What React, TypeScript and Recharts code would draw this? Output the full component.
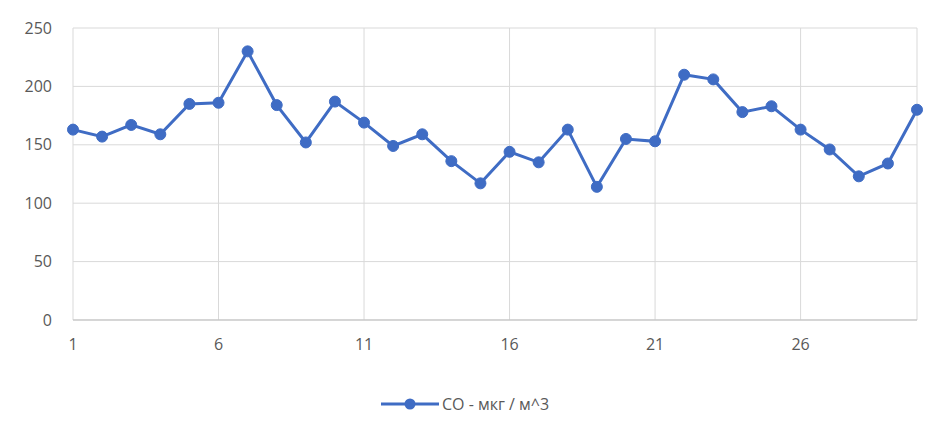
import { CartesianGrid, Legend, Line, LineChart, XAxis, YAxis } from "recharts";

const DAYS = Array.from({ length: 30 }, (_, i) => String(i + 1));
const CO_VALUES = [
  163, 157, 167, 159, 185, 186, 230, 184, 152, 187,
  169, 149, 159, 136, 117, 144, 135, 163, 114, 155,
  153, 210, 206, 178, 183, 163, 146, 123, 134, 180,
];
const Y_TICKS = [0, 50, 100, 150, 200, 250];
const SERIES_NAME = "CO - мкг / м^3";

const data = DAYS.map((day, i) => ({ day, value: CO_VALUES[i] }));

const LINE_COLOR = "#3f6cc4";
const TEXT_COLOR = "#595959";
const FONT = "'Open Sans', 'Noto Sans', sans-serif";

function LegendContent() {
  return (
    <div style={{ display: "flex", justifyContent: "center", alignItems: "center", fontFamily: FONT, fontSize: 16, color: TEXT_COLOR }}>
      <svg width={58} height={14} style={{ marginRight: 3 }}>
        <line x1={0} y1={7} x2={58} y2={7} stroke={LINE_COLOR} strokeWidth={3} />
        <circle cx={29} cy={7} r={5.5} fill={LINE_COLOR} />
      </svg>
      <span>{SERIES_NAME}</span>
    </div>
  );
}

export default function App() {
  return (
    <div style={{ position: "absolute", left: 0, top: 0, width: 937, height: 428, background: "#fff" }}>
      <LineChart width={937} height={428} data={data} margin={{ top: 28, right: 20, left: 13, bottom: 46 }}>
        <CartesianGrid stroke="#d9d9d9" strokeWidth={1} />
        <XAxis
          dataKey="day"
          interval={4}
          tickLine={false}
          tickSize={0}
          tickMargin={19}
          height={40}
          stroke="#bfbfbf"
          tick={{ fill: TEXT_COLOR, fontSize: 16, fontFamily: FONT }}
        />
        <YAxis
          domain={[0, 250]}
          ticks={Y_TICKS}
          width={60}
          axisLine={false}
          tickLine={false}
          tickSize={0}
          tickMargin={21}
          tick={{ fill: TEXT_COLOR, fontSize: 16, fontFamily: FONT }}
        />
        <Legend verticalAlign="bottom" content={<LegendContent />} wrapperStyle={{ bottom: 13 }} />
        <Line
          dataKey="value"
          name={SERIES_NAME}
          stroke={LINE_COLOR}
          strokeWidth={3}
          dot={{ r: 5.5, fill: LINE_COLOR, stroke: LINE_COLOR, strokeWidth: 1 }}
          isAnimationActive={false}
        />
      </LineChart>
    </div>
  );
}
